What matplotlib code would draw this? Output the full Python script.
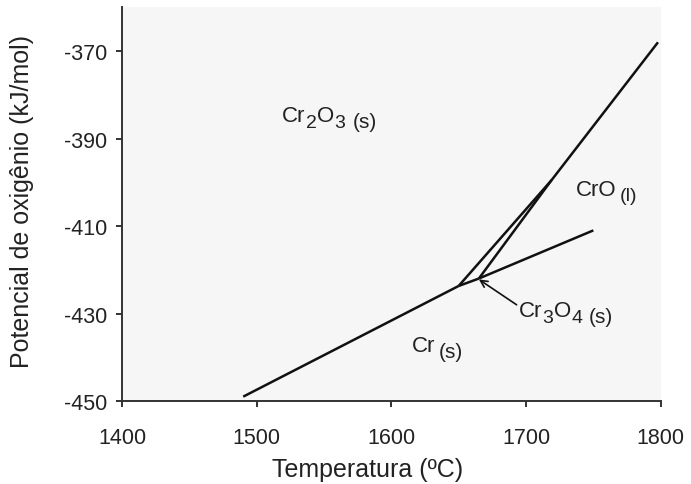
import matplotlib
matplotlib.use("Agg")
import matplotlib.pyplot as plt

plt.rcParams["font.family"] = ["Liberation Sans", "DejaVu Sans"]
plt.rcParams["axes.unicode_minus"] = False

# Phase boundaries (temperature in °C, oxygen potential in kJ/mol)
cr_cr2o3_T = [1490, 1650]
cr_cr2o3_G = [-449.0, -423.7]

cr2o3_cro_T = [1650, 1719, 1798]
cr2o3_cro_G = [-423.7, -399.5, -368.0]

cr_cr3o4_T = [1650, 1665]
cr_cr3o4_G = [-423.7, -422.0]

cr3o4_cro_T = [1665, 1719]
cr3o4_cro_G = [-422.0, -399.5]

cr_cro_T = [1665, 1750]
cr_cro_G = [-422.0, -411.0]

x_ticks = [1400, 1500, 1600, 1700, 1800]
y_ticks = [-450, -430, -410, -390, -370]

fig = plt.figure(figsize=(6.91, 4.85), dpi=100, facecolor="white")
ax = fig.add_axes([0.1766, 0.1711, 0.7795, 0.8118])
ax.set_facecolor("#f6f6f6")

for T, G in [(cr_cr2o3_T, cr_cr2o3_G), (cr2o3_cro_T, cr2o3_cro_G),
             (cr_cr3o4_T, cr_cr3o4_G), (cr3o4_cro_T, cr3o4_cro_G),
             (cr_cro_T, cr_cro_G)]:
    ax.plot(T, G, color="#111111", lw=1.8, solid_capstyle="butt",
            solid_joinstyle="miter")

ax.set_xlim(1400, 1800)
ax.set_ylim(-450, -360)
ax.set_xticks(x_ticks)
ax.set_yticks(y_ticks)
ax.tick_params(labelsize=15.5, length=4, width=1.4, color="#333333",
               labelcolor="#222222")
ax.tick_params(axis="y", pad=7)
ax.tick_params(axis="x", pad=15)
for side in ("top", "right"):
    ax.spines[side].set_visible(False)
for side in ("left", "bottom"):
    ax.spines[side].set_color("#333333")
    ax.spines[side].set_linewidth(1.4)

ax.set_xlabel("Temperatura (ºC)", fontsize=18, color="#222222")
ax.xaxis.set_label_coords(0.455, -0.142)
ax.set_ylabel("Potencial de oxigênio (kJ/mol)", fontsize=18, color="#222222")
ax.yaxis.set_label_coords(-0.163, 0.509)

renderer = fig.canvas.get_renderer()


def chem_label(x, y, runs):
    """Write a formula as a row of text pieces: (text, size, shift, gap)."""
    offset = 0.0
    for s, size, shift, gap in runs:
        offset += gap
        t = ax.annotate(s, xy=(x, y), xycoords="data",
                        xytext=(offset, shift), textcoords="offset points",
                        fontsize=size, color="#222222",
                        ha="left", va="baseline")
        offset += t.get_window_extent(renderer).width * 72.0 / fig.dpi


MAIN, SUB, PAR, LOW = 16, 14, 15, -4.5

chem_label(1519, -386.0, [("Cr", MAIN, 0, 0), ("2", SUB, LOW, 0),
                          ("O", MAIN, 0, 0), ("3", SUB, LOW, 0.5),
                          ("(s)", PAR, LOW, 5.0)])
chem_label(1737, -402.8, [("CrO", MAIN, 0, 0), ("(l)", 14, -3.8, 2.5)])
chem_label(1695, -430.6, [("Cr", MAIN, 0, 0), ("3", SUB, LOW, 0),
                          ("O", MAIN, 0, 0), ("4", SUB, LOW, 0.5),
                          ("(s)", PAR, LOW, 4.5)])
chem_label(1615, -438.6, [("Cr", MAIN, 0, 0), ("(s)", PAR, LOW, 3.0)])

ax.annotate("", xy=(1665, -422.2), xytext=(1693, -428.0),
            arrowprops=dict(arrowstyle="->,head_length=0.5,head_width=0.25",
                            color="#111111", lw=1.2, shrinkA=0, shrinkB=0))

fig.savefig("out.png", dpi=100, facecolor=fig.get_facecolor())
